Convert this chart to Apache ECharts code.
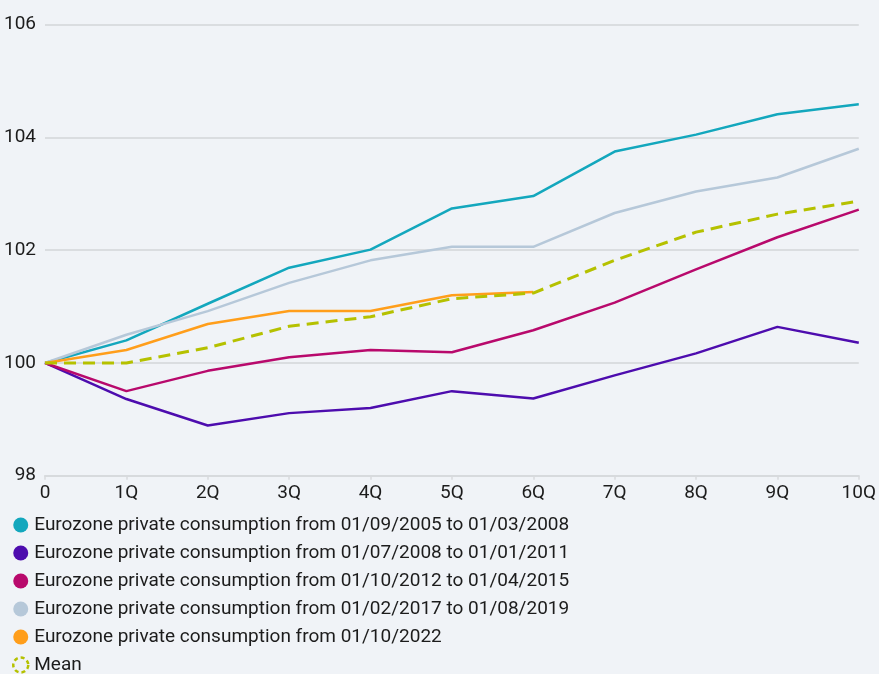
<!DOCTYPE html>
<html>
<head>
<meta charset="utf-8">
<title>Eurozone private consumption</title>
<script src="https://cdn.jsdelivr.net/npm/echarts@6/dist/echarts.min.js"></script>
<style>
  html, body { margin: 0; padding: 0; background: #f0f3f7; }
  #chart { width: 879px; height: 674px; }
</style>
</head>
<body>
<div id="chart"></div>
<script>
// Quarters after the start of each period (index = 100 at quarter 0)
const quarters = ['0', '1Q', '2Q', '3Q', '4Q', '5Q', '6Q', '7Q', '8Q', '9Q', '10Q'];

const names = [
  'Eurozone private consumption from 01/09/2005 to 01/03/2008',
  'Eurozone private consumption from 01/07/2008 to 01/01/2011',
  'Eurozone private consumption from 01/10/2012 to 01/04/2015',
  'Eurozone private consumption from 01/02/2017 to 01/08/2019',
  'Eurozone private consumption from 01/10/2022',
  'Mean'
];

const period2005 = [100, 100.40, 101.05, 101.69, 102.01, 102.74, 102.96, 103.75, 104.05, 104.41, 104.59];
const period2008 = [100, 99.36, 98.89, 99.11, 99.20, 99.50, 99.37, 99.78, 100.17, 100.64, 100.36];
const period2012 = [100, 99.50, 99.86, 100.10, 100.23, 100.19, 100.58, 101.07, 101.66, 102.23, 102.72];
const period2017 = [100, 100.50, 100.92, 101.42, 101.82, 102.06, 102.06, 102.66, 103.04, 103.29, 103.80];
const period2022 = [100, 100.23, 100.69, 100.92, 100.92, 101.20, 101.26];
const meanPath   = [100, 100.00, 100.27, 100.65, 100.82, 101.14, 101.24, 101.82, 102.32, 102.64, 102.87];

const yTicks = { min: 98, max: 106, interval: 2 };

const colors = ['#13a7bd', '#4d0cae', '#b8096c', '#b6c8d9', '#ff9e1b', '#b5c100'];
const FONT = 'Roboto, "Noto Sans", sans-serif';
const FONT_SIZE = 19;

const seriesData = [period2005, period2008, period2012, period2017, period2022];

const series = seriesData.map((d, i) => ({
  name: names[i],
  type: 'line',
  data: d,
  showSymbol: false,
  symbol: 'none',
  lineStyle: { width: 2.5, color: colors[i] },
  itemStyle: { color: colors[i] },
  z: 2 + i
}));
series.push({
  name: names[5],
  type: 'line',
  data: meanPath,
  showSymbol: false,
  symbol: 'none',
  lineStyle: { width: 3, color: colors[5], type: [12, 7] },
  itemStyle: { color: colors[5] },
  z: 10
});

const legendData = names.slice(0, 5).map((n, i) => ({
  name: n,
  icon: 'circle',
  itemStyle: { color: colors[i] }
}));
legendData.push({
  name: names[5],
  icon: 'circle',
  itemStyle: { color: 'rgba(0,0,0,0)', borderColor: colors[5], borderWidth: 2.5, borderType: [4, 3] }
});

const chart = echarts.init(document.getElementById('chart'), null, { renderer: 'canvas' });
chart.setOption({
  animation: false,
  backgroundColor: '#f0f3f7',
  textStyle: { fontFamily: FONT },
  grid: { left: 45, right: 20, top: 24.7, bottom: 198.3 },
  xAxis: {
    type: 'category',
    data: quarters,
    boundaryGap: false,
    axisLine: { lineStyle: { color: '#d7dadd', width: 2 } },
    axisTick: { show: true, length: 4, alignWithLabel: true, lineStyle: { color: '#d7dadd', width: 1.5 } },
    axisLabel: { color: '#1c1c1c', fontSize: FONT_SIZE, fontFamily: FONT, margin: 8 },
    splitLine: { show: false }
  },
  yAxis: {
    type: 'value',
    min: yTicks.min,
    max: yTicks.max,
    interval: yTicks.interval,
    axisLine: { show: false },
    axisTick: { show: false },
    axisLabel: { color: '#1c1c1c', fontSize: FONT_SIZE, fontFamily: FONT, margin: 9 },
    splitLine: { lineStyle: { color: '#dadde0', width: 2 } }
  },
  legend: {
    orient: 'vertical',
    left: 12,
    top: 515,
    height: 300,
    itemWidth: 15,
    itemHeight: 15,
    itemGap: 8,
    padding: 0,
    selectedMode: false,
    textStyle: { color: '#1c1c1c', fontSize: FONT_SIZE, fontFamily: FONT, lineHeight: 20, padding: [0, 0, 0, 1] },
    data: legendData
  },
  series: series
});
</script>
</body>
</html>
